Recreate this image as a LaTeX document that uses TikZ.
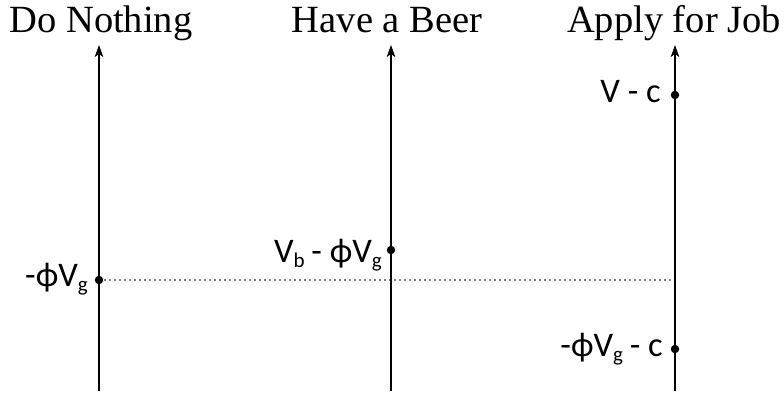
\documentclass[tikz,border=0pt]{standalone}
\usepackage{fontspec}
\setmainfont{Liberation Serif}
\newfontfamily\lblfont{Carlito}
\usetikzlibrary{arrows.meta}
\newcommand{\sbs}[1]{\raisebox{-0.12em}{\fontsize{21}{21}\selectfont #1}}
\begin{document}
\begin{tikzpicture}[x=1pt,y=1pt,
  axis/.style={line width=1.6pt,-{Stealth[length=12pt,width=8.5pt,inset=3pt]}},
  title/.style={font=\fontsize{38.5}{40}\selectfont, anchor=base, inner sep=0pt},
  lbl/.style={font=\lblfont\fontsize{34.5}{36}\selectfont, anchor=base east, inner sep=0pt},
  pt/.style={circle, fill=black, inner sep=0pt, minimum size=8.5pt},
  guide/.style={gray, line width=1.2pt, dash pattern=on 1.5pt off 3.5pt}]
\useasboundingbox (0,0) rectangle (784,393);
% axes
\coordinate (a1b) at (99,2);  \coordinate (a1t) at (99,348);
\coordinate (a2b) at (391,2); \coordinate (a2t) at (391,348);
\coordinate (a3b) at (675,2); \coordinate (a3t) at (675,348);
\coordinate (gl) at (675,113);
\draw[guide] (99,113) -- (gl);
\draw[axis] (a1b) -- (a1t);
\draw[axis] (a2b) -- (a2t);
\draw[axis] (a3b) -- (a3t);
% titles
\node[title] (t1) at (101,360) {Do Nothing};
\node[title] (t2) at (387,360) {Have a Beer};
\node[title] (t3) at (674,360) {Apply for Job};
% points
\node[pt] (d1) at (99,113) {};
\node[pt] (d2) at (391,143) {};
\node[pt] (d4) at (675,298) {};
\node[pt] (d3) at (675,44) {};
% labels
\node[lbl] (l1) at ([shift={(-11,-7)}]d1.center) {-ϕV\sbs{g}};
\node[lbl] (l2) at ([shift={(-9,-13)}]d2.center) {V\sbs{b}\hspace{-1pt} - ϕV\sbs{g}};
\node[lbl] (l4) at ([shift={(-14,-8)}]d4.center) {V - c};
\node[lbl] (l3) at ([shift={(-12,-8)}]d3.center) {-ϕV\sbs{g}\hspace{-1pt} - c};
\end{tikzpicture}
\end{document}
